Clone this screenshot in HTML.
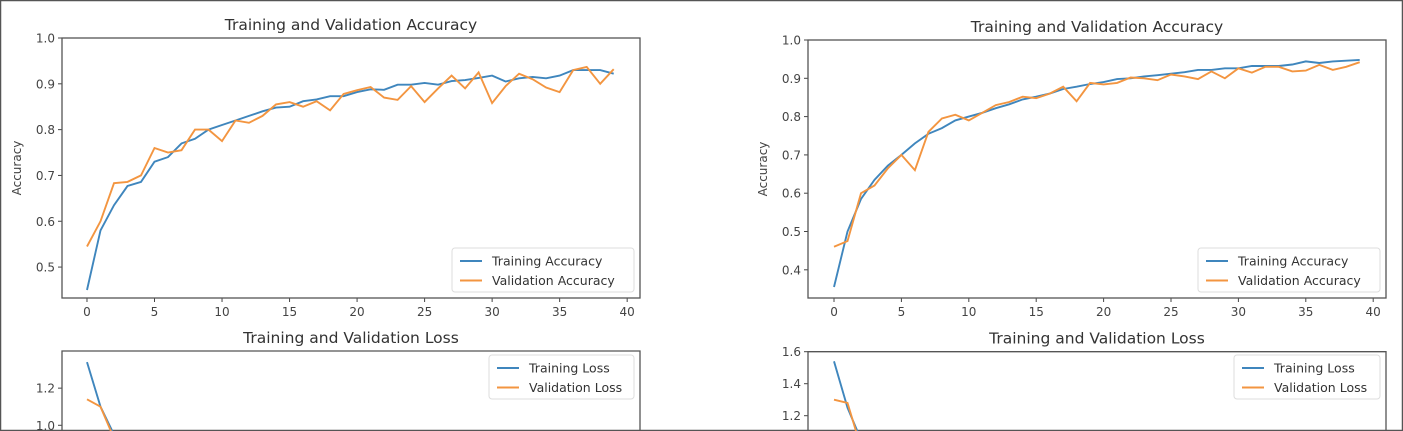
<!DOCTYPE html>
<html><head><meta charset="utf-8"><style>
html,body{margin:0;background:#fff;width:1403px;height:431px;overflow:hidden}
svg{display:block;overflow:hidden;font-family:"DejaVu Sans","Liberation Sans",sans-serif}
</style></head><body>
<svg id="c" width="1403" height="431">
<rect x="0.5" y="0.5" width="1402" height="430" fill="#fff" stroke="#555" stroke-width="1.5"/>
</svg>
<script>
const epochs = Array.from({length:40},(_,i)=>i);
const xTicks = [0,5,10,15,20,25,30,35,40];
const accTicksL = [0.5,0.6,0.7,0.8,0.9,1.0];
const accTicksR = [0.4,0.5,0.6,0.7,0.8,0.9,1.0];
const lossTicksL = [1.0,1.2];
const lossTicksR = [1.2,1.4,1.6];
const trainAccL = [0.45,0.58,0.635,0.677,0.686,0.73,0.74,0.77,0.78,0.80,0.81,0.82,0.83,0.84,0.848,0.85,0.862,0.866,0.873,0.873,0.882,0.888,0.887,0.898,0.898,0.902,0.898,0.906,0.908,0.913,0.918,0.905,0.912,0.915,0.912,0.918,0.93,0.93,0.93,0.922];
const valAccL = [0.545,0.6,0.683,0.686,0.70,0.76,0.75,0.755,0.80,0.80,0.775,0.82,0.815,0.83,0.855,0.86,0.85,0.862,0.842,0.878,0.886,0.893,0.87,0.865,0.895,0.86,0.89,0.918,0.89,0.925,0.858,0.895,0.922,0.91,0.892,0.882,0.93,0.937,0.90,0.932];
const trainAccR = [0.355,0.50,0.585,0.635,0.672,0.70,0.73,0.755,0.77,0.79,0.80,0.81,0.822,0.832,0.845,0.852,0.86,0.872,0.878,0.885,0.89,0.898,0.9,0.905,0.908,0.912,0.916,0.922,0.922,0.926,0.926,0.932,0.932,0.932,0.936,0.944,0.94,0.944,0.946,0.948];
const valAccR = [0.46,0.475,0.60,0.62,0.665,0.70,0.66,0.76,0.795,0.805,0.79,0.81,0.83,0.838,0.852,0.848,0.86,0.878,0.84,0.888,0.884,0.888,0.902,0.9,0.895,0.91,0.905,0.898,0.918,0.90,0.926,0.915,0.93,0.93,0.918,0.92,0.935,0.922,0.93,0.942];
const trainLossL = [1.34,1.10,0.95];
const valLossL = [1.14,1.10,0.93];
const trainLossR = [1.54,1.25,1.05];
const valLossR = [1.30,1.28,1.00];

const NS="http://www.w3.org/2000/svg";
const svg=document.getElementById('c');
function mk(tag,attrs,parent){const e=document.createElementNS(NS,tag);for(const k in attrs)e.setAttribute(k,attrs[k]);(parent||svg).appendChild(e);return e;}
const BLUE="#3f86bd", ORANGE="#f39540";
const H=431;

function chart(o){
  const g=mk('g',{});
  
  
  const clipId=o.name+'-clip';
  const yb=Math.min(o.y1,H);
  const cp=mk('clipPath',{id:clipId},g);
  mk('rect',{x:o.x0,y:o.y0,width:o.x1-o.x0,height:yb-o.y0},cp);
  const sx=v=>o.x0+(v-o.xmin)/(o.xmax-o.xmin)*(o.x1-o.x0);
  const sy=v=>o.y1-(v-o.ymin)/(o.ymax-o.ymin)*(o.y1-o.y0);
  const t=mk('text',{x:(o.x0+o.x1)/2,y:o.y0-8,'text-anchor':'middle','font-size':15.5,fill:'#333'},g);
  t.textContent=o.title;
  
  
  o.yTicks.forEach(v=>{
    const y=sy(v);
    mk('line',{x1:o.x0-4,x2:o.x0,y1:y,y2:y,stroke:'#444'},g);
    const tx=mk('text',{x:o.x0-7,y:y+4.5,'text-anchor':'end','font-size':12,fill:'#444'},g);
    tx.textContent=v.toFixed(1);
    
    
  });
  if(o.xAxis){
    xTicks.forEach(v=>{
      const x=sx(v);
      mk('line',{x1:x,x2:x,y1:o.y1,y2:o.y1+4,stroke:'#444'},g);
      const tx=mk('text',{x:x,y:o.y1+18,'text-anchor':'middle','font-size':12,fill:'#444'},g);
      tx.textContent=v;
      
      
    });
  }
  if(o.ylabel){
    const yl=mk('text',{x:0,y:0,'text-anchor':'middle','font-size':12,fill:'#444',transform:`translate(${o.x0-41},${(o.y0+o.y1)/2}) rotate(-90)`},g);
    yl.textContent=o.ylabel;
    
    
  }
  o.series.forEach(s=>{
    const pts=s.data.map((v,i)=>sx(epochs[i]).toFixed(1)+','+sy(v).toFixed(1)).join(' ');
    const p=mk('polyline',{points:pts,fill:'none',stroke:s.color,'stroke-width':1.9,'clip-path':`url(#${clipId})`},g);
    
    
  });
  if(o.y1<=H){
    mk('rect',{x:o.x0,y:o.y0,width:o.x1-o.x0,height:o.y1-o.y0,fill:'none',stroke:'#555','stroke-width':1.3},g);
  } else {
    mk('path',{d:`M${o.x0},${H} V${o.y0} H${o.x1} V${H}`,fill:'none',stroke:'#555','stroke-width':1.3},g);
  }
  const L=o.legend;
  const lg=mk('g',{},g);
  
  
  mk('rect',{x:L.x,y:L.y,width:L.w,height:44,rx:3,fill:'#fff',stroke:'#ddd'},lg);
  o.series.forEach((s,i)=>{
    const yy=L.y+13+i*19.5;
    mk('line',{x1:L.x+8,x2:L.x+30,y1:yy,y2:yy,stroke:s.color,'stroke-width':2},lg);
    const tx=mk('text',{x:L.x+40,y:yy+4.5,'font-size':12.5,fill:'#333'},lg);
    tx.textContent=s.label;
    
    
  });
}

chart({name:'left-accuracy-chart',title:'Training and Validation Accuracy',x0:62,x1:640,y0:38,y1:298,xmin:-1.85,xmax:40.95,ymin:0.4325,ymax:1.0,yTicks:accTicksL,xAxis:true,ylabel:'Accuracy',
  series:[{id:'training-accuracy-line',label:'Training Accuracy',color:BLUE,data:trainAccL},{id:'validation-accuracy-line',label:'Validation Accuracy',color:ORANGE,data:valAccL}],
  legend:{x:452,y:248,w:182}});
chart({name:'right-accuracy-chart',title:'Training and Validation Accuracy',x0:808,x1:1386,y0:40,y1:298,xmin:-1.93,xmax:40.95,ymin:0.3264,ymax:1.0,yTicks:accTicksR,xAxis:true,ylabel:'Accuracy',
  series:[{id:'training-accuracy-line',label:'Training Accuracy',color:BLUE,data:trainAccR},{id:'validation-accuracy-line',label:'Validation Accuracy',color:ORANGE,data:valAccR}],
  legend:{x:1198,y:248,w:182}});
chart({name:'left-loss-chart',title:'Training and Validation Loss',x0:62,x1:640,y0:351,y1:611,xmin:-1.85,xmax:40.95,ymin:-0.0,ymax:1.4,yTicks:lossTicksL,xAxis:false,
  series:[{id:'training-loss-line',label:'Training Loss',color:BLUE,data:trainLossL},{id:'validation-loss-line',label:'Validation Loss',color:ORANGE,data:valLossL}],
  legend:{x:489,y:355,w:145}});
chart({name:'right-loss-chart',title:'Training and Validation Loss',x0:808,x1:1386,y0:351.7,y1:611,xmin:-1.93,xmax:40.95,ymin:1.6-0.2*(611-351.7)/32,ymax:1.6,yTicks:lossTicksR,xAxis:false,
  series:[{id:'training-loss-line',label:'Training Loss',color:BLUE,data:trainLossR},{id:'validation-loss-line',label:'Validation Loss',color:ORANGE,data:valLossR}],
  legend:{x:1234,y:355,w:146}});
</script>
</body></html>
